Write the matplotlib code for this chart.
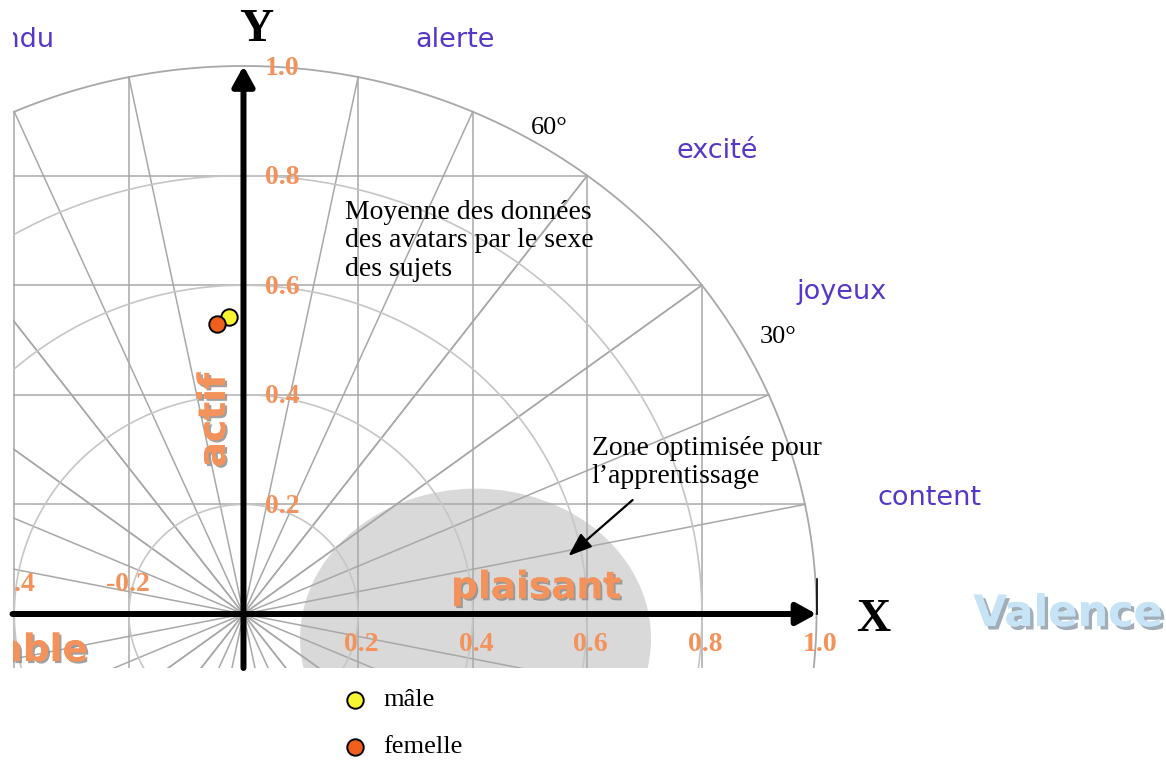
import numpy as np
import matplotlib
matplotlib.use('Agg')
import matplotlib.pyplot as plt
import matplotlib.patheffects as pe
from matplotlib.patches import Ellipse

# grid steps of the valence / activation plane
grid_steps = [-0.8, -0.6, -0.4, -0.2, 0.2, 0.4, 0.6, 0.8]
circle_radii = [0.2, 0.4, 0.6, 0.8]

# tick labels
x_ticks = [0.2, 0.4, 0.6, 0.8, 1.0]
x_neg_ticks = [-0.2, -0.4]
y_ticks = [0.2, 0.4, 0.6, 0.8, 1.0]

# mean of the avatar data by sex of the subjects
groups = ['mâle', 'femelle']
group_x = [-0.025, -0.047]
group_y = [0.542, 0.530]
group_colors = ['#f7f531', '#f0601c']

# emotion words around the circle
emotions = ['détendu', 'alerte', 'excité', 'joyeux', 'content']
emotion_x = [-0.329, 0.369, 0.826, 1.044, 1.198]
emotion_y = [1.047, 1.047, 0.845, 0.588, 0.212]

# zone optimised for learning
zone_center = (0.405, -0.045)
zone_size = (0.61, 0.545)

orange = '#f4925c'
purple = '#5638c8'
grid_col = '#a8a8a8'
serif = 'Liberation Serif'

fig = plt.figure(figsize=(11.66, 7.61), dpi=100)
ax = fig.add_axes([12.5 / 1166, 93 / 761, (1166 - 12.5) / 1166, 668 / 761])
ax.set_xlim(-0.4031, 1.6099)
ax.set_ylim(-0.0985, 1.1204)
ax.axis('off')

ax.add_patch(Ellipse(zone_center, zone_size[0], zone_size[1], color='#d9d9d9', zorder=0))

# square grid clipped to the unit circle
for g in grid_steps:
    h = np.sqrt(1 - g ** 2)
    ax.plot([g, g], [-h, h], color=grid_col, lw=1.1, zorder=1)
    ax.plot([-h, h], [g, g], color=grid_col, lw=1.1, zorder=1)

# radial lines to where the grid meets the circle
angles = np.unique(np.round(np.arccos(np.abs(grid_steps)), 6))
for a in np.concatenate([angles, np.pi / 2 - angles]):
    for s in [1, -1]:
        ax.plot([-np.cos(a) * s, np.cos(a) * s], [-np.sin(a), np.sin(a)],
                color=grid_col, lw=1.1, zorder=1)

t = np.linspace(0, 2 * np.pi, 400)
for r in circle_radii:
    ax.plot(r * np.cos(t), r * np.sin(t), color='#c6c6c6', lw=1.2, zorder=1)
ax.plot(np.cos(t), np.sin(t), color=grid_col, lw=1.3, zorder=1)

# axes arrows
arr = dict(arrowstyle='-|>,head_length=0.6,head_width=0.33', lw=4.3, color='black',
           mutation_scale=20, shrinkA=0, shrinkB=0)
ax.annotate('', xy=(0, 1.0), xytext=(0, -0.0985), arrowprops=arr, zorder=3)
ax.annotate('', xy=(1.0, 0), xytext=(-0.4031, 0), arrowprops=arr, zorder=3)
ax.plot([1.0, 1.0], [0, 0.064], color='black', lw=1.2, zorder=3)

ax.text(0.0218, 1.066, 'Y', family=serif, weight='bold', fontsize=34, ha='center', va='center')
ax.text(1.0986, -0.011, 'X', family=serif, weight='bold', fontsize=34, ha='center', va='center')

for v in y_ticks:
    ax.text(0.0375, v - 0.004, f'{v:.1f}', family=serif, weight='bold', fontsize=20,
            color=orange, ha='left', va='center', zorder=4)
for v in x_ticks:
    ax.text(v + 0.006, -0.055, f'{v:.1f}', family=serif, weight='bold', fontsize=20,
            color=orange, ha='center', va='center', zorder=4)
for v in x_neg_ticks:
    ax.text(v - 0.002, 0.053, f'{v:.1f}', family=serif, weight='bold', fontsize=20,
            color=orange, ha='center', va='center', zorder=4, clip_on=True)

for name, ex, ey in zip(emotions, emotion_x, emotion_y):
    ax.text(ex, ey, name, fontsize=19.5, color=purple, ha='right' if ex < 0 else 'center',
            va='center', clip_on=True)

shadow = [pe.withSimplePatchShadow(offset=(1.5, -1.5), shadow_rgbFace='#8a8a8a', alpha=0.8), pe.Normal()]
ax.text(0.5105, 0.047, 'plaisant', fontsize=27, weight='bold', color=orange,
        ha='center', va='center', path_effects=shadow, zorder=4)
ax.text(-0.0497, 0.354, 'actif', fontsize=27, weight='bold', color=orange, rotation=90,
        ha='center', va='center', path_effects=shadow, zorder=4)
ax.text(-0.2714, -0.0657, 'désagréable', fontsize=27, weight='bold', color=orange,
        ha='right', va='center', path_effects=shadow, zorder=4, clip_on=True)
ax.text(1.439, 0.0, 'Valence', fontsize=31, weight='bold', color='#c6e4f6',
        ha='center', va='center',
        path_effects=[pe.withSimplePatchShadow(offset=(2.5, -2.5), shadow_rgbFace='#7a8a99', alpha=0.7),
                      pe.Normal()])

ax.text(0.533, 0.887, '60°', family=serif, fontsize=19, ha='center', va='center')
ax.text(0.933, 0.505, '30°', family=serif, fontsize=19, ha='center', va='center')

ax.text(0.177, 0.681, 'Moyenne des données\ndes avatars par le sexe\ndes sujets',
        family=serif, fontsize=20, ha='left', va='center', linespacing=1.2, zorder=4)
ax.text(0.608, 0.2765, 'Zone optimisée pour\nl\u2019apprentissage',
        family=serif, fontsize=20, ha='left', va='center', linespacing=1.2, zorder=4)
ax.annotate('', xy=(0.567, 0.106), xytext=(0.679, 0.208),
            arrowprops=dict(arrowstyle='-|>,head_length=0.8,head_width=0.3', lw=1.6,
                            color='black', mutation_scale=18, shrinkA=0, shrinkB=0), zorder=4)

# data points
for gx, gy, c in zip(group_x, group_y, group_colors):
    ax.scatter([gx], [gy], s=140, color=c, edgecolor='black', linewidth=1.4, zorder=5)

# legend below the plane
for i, (name, c) in enumerate(zip(groups, group_colors)):
    ly = -0.157 - i * 0.0857
    ax.scatter([0.1946], [ly], s=140, color=c, edgecolor='black', linewidth=1.4,
               zorder=5, clip_on=False)
    ax.text(0.2435, ly, name, family=serif, fontsize=19, ha='left', va='center', clip_on=False)

fig.savefig('out.png', dpi=100, facecolor='white')
